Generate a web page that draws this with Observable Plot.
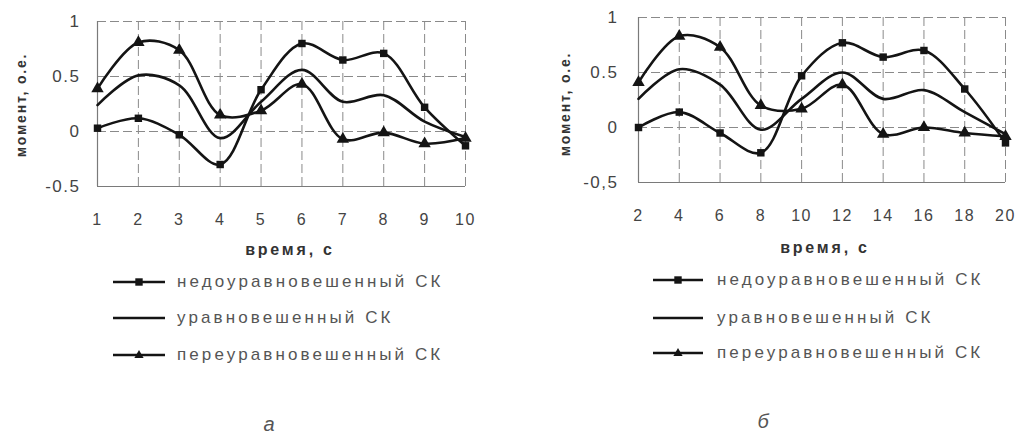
<!DOCTYPE html>
<html><head><meta charset="utf-8">
<script src="https://cdn.jsdelivr.net/npm/d3@7"></script>
<script src="https://cdn.jsdelivr.net/npm/@observablehq/plot@0.6"></script>
<style>
body{margin:0;background:#fff;}
#wrap{position:relative;width:1020px;height:434px;overflow:hidden;font-family:"Liberation Sans",Arial,sans-serif;color:#444;background:#fff}
.panel{position:absolute;top:0}
.panel svg text{letter-spacing:1.5px}
.lbl{position:absolute;white-space:nowrap;line-height:24px}
.xt{font-weight:bold;font-size:16px;letter-spacing:2.8px;color:#333;transform:translate(-50%,-50%)}
.yt{font-weight:bold;font-size:14px;letter-spacing:1.8px;color:#333;transform:translate(-50%,-50%) rotate(-90deg)}
.leg{font-size:17px;letter-spacing:3.1px;color:#555;transform:translateY(-50%)}
.cap{font-style:italic;font-size:20px;line-height:20px;color:#555;transform:translate(-50%,-50%);padding:0 4px}
</style></head><body><div id="wrap"></div>
<script>
const seriesNames = ["недоуравновешенный СК", "уравновешенный СК", "переуравновешенный СК"];
const xTitle = "время, с";
const yTitle = "момент, о.е.";
const panelCaptions = ["а", "б"];

const timeA = [1, 2, 3, 4, 5, 6, 7, 8, 9, 10];
const underA = [0.03, 0.12, -0.03, -0.30, 0.38, 0.80, 0.65, 0.71, 0.22, -0.13];
const balA   = [0.24, 0.51, 0.42, -0.06, 0.27, 0.56, 0.27, 0.33, 0.09, -0.05];
const overA  = [0.39, 0.81, 0.74, 0.15, 0.19, 0.43, -0.07, -0.01, -0.11, -0.06];
const xTickLabelsA = ["1", "2", "3", "4", "5", "6", "7", "8", "9", "10"];

const timeB = [2, 4, 6, 8, 10, 12, 14, 16, 18, 20];
const underB = [0.00, 0.14, -0.05, -0.23, 0.47, 0.77, 0.64, 0.70, 0.35, -0.14];
const balB   = [0.26, 0.53, 0.39, -0.02, 0.26, 0.50, 0.26, 0.34, 0.14, -0.06];
const overB  = [0.41, 0.83, 0.73, 0.20, 0.17, 0.39, -0.06, 0.00, -0.05, -0.08];
const xTickLabelsB = ["2", "4", "6", "8", "10", "12", "14", "16", "18", "20"];

const yTicks = [-0.5, 0, 0.5, 1];
const yTickLabelsA = ["-0.5", "0", "0.5", "1"];
const yTickLabelsB = ["-0,5", "0", "0.5", "1"];

const wrap = document.getElementById("wrap");

function panel(cfg) {
  const rows = (vals) => cfg.time.map((t, i) => ({t, v: vals[i]}));
  const under = rows(cfg.under), bal = rows(cfg.bal), over = rows(cfg.over);
  const ink = "#141414";
  const chart = Plot.plot({
    width: cfg.width, height: 240,
    marginLeft: cfg.ml, marginRight: cfg.mr, marginTop: cfg.mt, marginBottom: 240 - cfg.mb,
    x: {domain: [cfg.time[0], cfg.time[cfg.time.length - 1]]},
    y: {domain: [-0.5, 1]},
    style: {fontFamily: '"Liberation Sans", Arial, sans-serif', fontSize: "16px", color: "#444", background: "#fff", overflow: "visible"},
    marks: [
      Plot.ruleY(yTicks.slice(1), {stroke: "#8a8a8a", strokeWidth: 1, strokeDasharray: "9,4"}),
      Plot.ruleY([yTicks[0]], {stroke: "#7a7a7a", strokeWidth: 1.2}),
      Plot.ruleX(cfg.time.slice(1), {stroke: "#8a8a8a", strokeWidth: 1, strokeDasharray: "9,4"}),
      Plot.ruleX([cfg.time[0]], {stroke: "#7a7a7a", strokeWidth: 1.2}),
      Plot.line(bal, {x: "t", y: "v", curve: "catmull-rom", stroke: ink, strokeWidth: 2.6}),
      Plot.line(under, {x: "t", y: "v", curve: "catmull-rom", stroke: ink, strokeWidth: 2.6}),
      Plot.line(over, {x: "t", y: "v", curve: "catmull-rom", stroke: ink, strokeWidth: 2.6}),
      Plot.dot(under, {x: "t", y: "v", symbol: "square", r: 4.2, fill: ink}),
      Plot.dot(over, {x: "t", y: "v", symbol: "triangle", r: 4.6, fill: ink}),
      Plot.axisX(cfg.time, {tickSize: 0, tickPadding: cfg.xpad, tickFormat: d => cfg.xLabels[cfg.time.indexOf(d)], label: null, fill: "#444", fontSize: 16}),
      Plot.axisY(yTicks, {tickSize: 0, tickPadding: cfg.ypad, tickFormat: d => cfg.yLabels[yTicks.indexOf(d)], label: null, fill: "#444", fontSize: 17})
    ]
  });
  const div = document.createElement("div");
  div.className = "panel";
  div.style.left = cfg.left + "px";
  div.appendChild(chart);
  wrap.appendChild(div);

  const add = (cls, text, x, y) => {
    const e = document.createElement("div");
    e.className = "lbl " + cls;
    e.textContent = text;
    e.style.left = x + "px";
    e.style.top = y + "px";
    wrap.appendChild(e);
    return e;
  };
  add("xt", xTitle, cfg.xtX, cfg.xtY);
  add("yt", yTitle, cfg.ytX, cfg.ytY);
  add("cap", cfg.caption, cfg.capX, cfg.capY);

  const symbols = ["square", null, "triangle"];
  cfg.legY.forEach((cy, i) => {
    const sw = document.createElementNS("http://www.w3.org/2000/svg", "svg");
    sw.setAttribute("width", 60); sw.setAttribute("height", 20);
    sw.style.position = "absolute";
    sw.style.left = (cfg.legX0 - 4) + "px";
    sw.style.top = (cy - 10) + "px";
    const w = cfg.legX1 - cfg.legX0;
    let s = `<line x1="4" y1="10" x2="${4 + w}" y2="10" stroke="${ink}" stroke-width="2.6"/>`;
    const c = 4 + w / 2;
    if (symbols[i] === "square") s += `<rect x="${c - 3.7}" y="6.3" width="7.4" height="7.4" fill="${ink}"/>`;
    if (symbols[i] === "triangle") s += `<path d="M${c},5 L${c + 4.6},13 L${c - 4.6},13Z" fill="${ink}"/>`;
    sw.innerHTML = s;
    wrap.appendChild(sw);
    add("leg", seriesNames[i], cfg.legT, cy);
  });
}

panel({left: 0, width: 500, ml: 97, mr: 35, mt: 21, mb: 186, xpad: 27, ypad: 17,
  time: timeA, under: underA, bal: balA, over: overA, xLabels: xTickLabelsA, yLabels: yTickLabelsA,
  xtX: 290, xtY: 250, ytX: 21, ytY: 105, caption: panelCaptions[0], capX: 269, capY: 424,
  legY: [282, 318, 355], legX0: 113, legX1: 165, legT: 177});

panel({left: 500, width: 520, ml: 138, mr: 15, mt: 17, mb: 182, xpad: 27, ypad: 20,
  time: timeB, under: underB, bal: balB, over: overB, xLabels: xTickLabelsB, yLabels: yTickLabelsB,
  xtX: 825, xtY: 248, ytX: 565, ytY: 104, caption: panelCaptions[1], capX: 763, capY: 421,
  legY: [280, 318, 353], legX0: 653, legX1: 703, legT: 717});
</script></body></html>
